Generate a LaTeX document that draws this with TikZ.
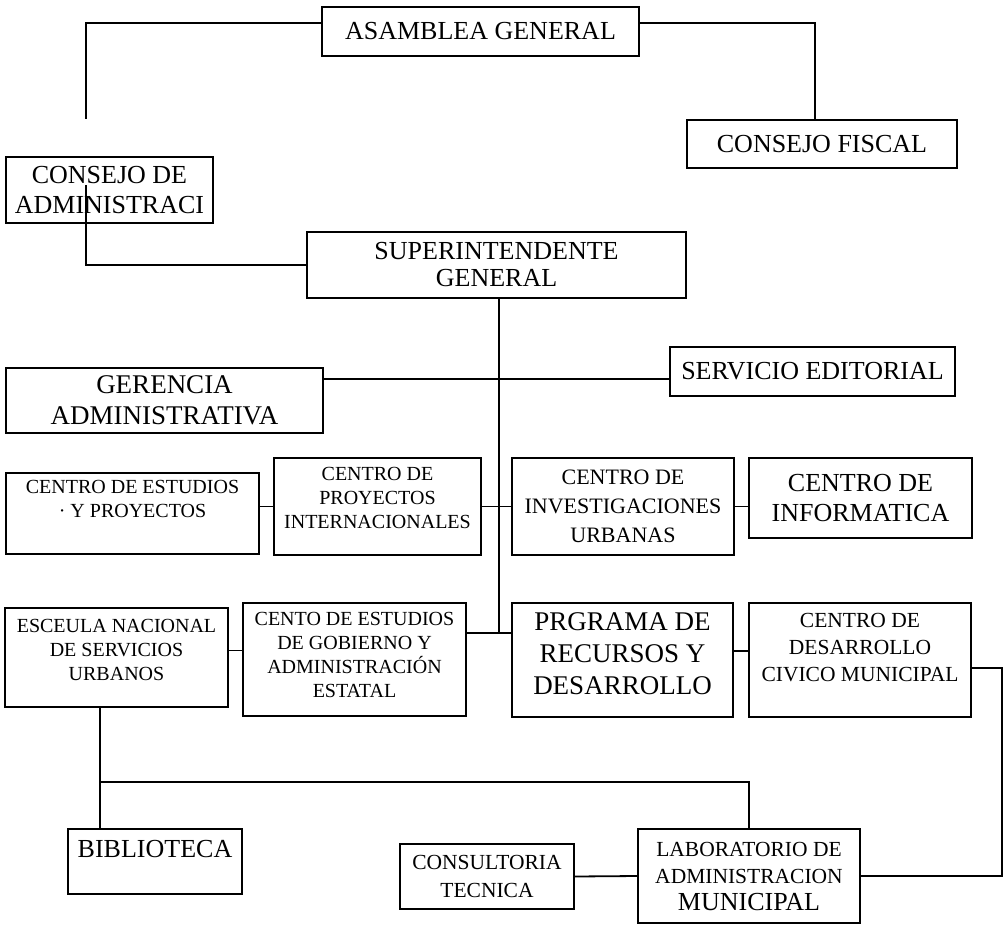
\documentclass[tikz,border=0pt]{standalone}
\usepackage{fontspec}
\setmainfont{Liberation Serif}
\usetikzlibrary{calc}

% extra depth under the last line, to lift the text in its box
\newcommand{\dropdepth}[1]{\rule[-#1]{0pt}{#1}}

\tikzset{
    orgbox/.style={draw, line width=1.8pt, inner sep=0pt, align=center},
    bigtext/.style={font=\fontsize{26}{30}\selectfont},
    smalltext/.style={font=\fontsize{20}{24}\selectfont},
    conn/.style={line width=1.8pt},
}

\begin{document}
\begin{tikzpicture}[x=1pt, y=-1pt]
        \useasboundingbox (0, 0) rectangle (1004, 924);

        % top of the chart
        \node[orgbox, bigtext, minimum width=317pt, minimum height=49pt] (asamblea) at (480.5, 31.5) {ASAMBLEA GENERAL};
        \node[orgbox, bigtext, minimum width=270pt, minimum height=48pt] (fiscal) at (822, 144) {CONSEJO FISCAL};
        \node[orgbox, bigtext, minimum width=207pt, minimum height=66pt] (admin) at (109.5, 190) {CONSEJO DE\\ADMINISTRACI};
        \node[orgbox, font=\fontsize{26}{27}\selectfont, minimum width=379pt, minimum height=66pt] (super) at (496.5, 265) {SUPERINTENDENTE\\GENERAL};

        \node[orgbox, font=\fontsize{27}{31}\selectfont, minimum width=317pt, minimum height=65pt] (gerencia) at (164.5, 400.5) {GERENCIA\\ADMINISTRATIVA};
        \node[orgbox, bigtext, minimum width=285pt, minimum height=49pt] (servicio) at (812.5, 371.5) {SERVICIO EDITORIAL};

        % centros
        \node[orgbox, smalltext, minimum width=253pt, minimum height=81pt] (ceyp) at (132.5, 513.5) {CENTRO DE ESTUDIOS\\· Y PROYECTOS\dropdepth{30pt}};
        \node[orgbox, smalltext, minimum width=207pt, minimum height=97pt] (cpi) at (377.5, 506.5) {CENTRO DE\\PROYECTOS\\INTERNACIONALES\dropdepth{18pt}};
        \node[orgbox, font=\fontsize{22}{29}\selectfont, minimum width=222pt, minimum height=97pt] (ciu) at (623, 506.5) {CENTRO DE\\INVESTIGACIONES\\URBANAS};
        \node[orgbox, bigtext, minimum width=223pt, minimum height=80pt] (cinf) at (860.5, 498) {CENTRO DE\\INFORMATICA};

        \node[orgbox, smalltext, minimum width=223pt, minimum height=99pt] (esc) at (116.5, 657.5) {ESCEULA NACIONAL\\DE SERVICIOS\\URBANOS\dropdepth{16pt}};
        \node[orgbox, smalltext, minimum width=223pt, minimum height=113pt] (cento) at (354.5, 659.5) {CENTO DE ESTUDIOS\\DE GOBIERNO Y\\ADMINISTRACIÓN\\ESTATAL\dropdepth{10pt}};
        \node[orgbox, font=\fontsize{27}{32}\selectfont, minimum width=221pt, minimum height=114pt] (prog) at (622.5, 660) {PRGRAMA DE\\RECURSOS Y\\DESARROLLO\dropdepth{12pt}};
        \node[orgbox, font=\fontsize{21.5}{27}\selectfont, minimum width=222pt, minimum height=114pt] (cdcm) at (860, 660) {CENTRO DE\\DESARROLLO\\CIVICO MUNICIPAL\dropdepth{25pt}};

        % bottom row
        \node[orgbox, bigtext, minimum width=174pt, minimum height=65pt] (biblio) at (155, 861.5) {BIBLIOTECA\dropdepth{26pt}};
        \node[orgbox, font=\fontsize{21.5}{28}\selectfont, minimum width=174pt, minimum height=65pt] (cons) at (487, 876.5) {CONSULTORIA\\TECNICA};
        \node[orgbox, font=\fontsize{21.5}{27}\selectfont, minimum width=222pt, minimum height=94pt] (lab) at (749, 876) {LABORATORIO DE\\ADMINISTRACION\\{\fontsize{26}{27}\selectfont MUNICIPAL}};

        \coordinate (adm-up) at (86, 119);
        \coordinate (adm-in) at (86, 185);
        \coordinate (trunk-end) at (499, 633);
        \coordinate (ger-line) at (499, 379);
        \coordinate (right-turn) at (1002, 876);
        \coordinate (bus) at (100, 782);

        \draw[conn] ([yshift=8.5pt]asamblea.west) -| (adm-up);
        \draw[conn] ([yshift=8.5pt]asamblea.east) -| ([xshift=-7pt]fiscal.north);
        \draw[conn] (adm-in) |- (super.west);
        \draw[conn] (super.south -| trunk-end) -- (trunk-end);
        \draw[conn] (gerencia.east |- ger-line) -- (servicio.west |- ger-line);
        \draw[conn] (ceyp.east |- cpi.west) -- (cpi.west);
        \draw[conn] (cpi.east) -- (ciu.west);
        \draw[conn] (ciu.east) -- (ciu.east -| cinf.west);
        \draw[conn] ([yshift=7pt]esc.east) -- ([yshift=7pt]esc.east -| cento.west);
        \draw[conn] (cento.east |- trunk-end) -- (prog.west |- trunk-end);
        \draw[conn] ([yshift=9pt]prog.east) -- ([yshift=9pt]prog.east -| cdcm.west);
        \draw[conn] ([yshift=-8pt]cdcm.east) -| (right-turn) -- (lab.east);
        \draw[conn] (esc.south -| bus) -- (biblio.north -| bus);
        \draw[conn] (bus) -| (lab.north);
        \draw[conn] (cons.east) -- (lab.west);

\end{tikzpicture}
\end{document}
